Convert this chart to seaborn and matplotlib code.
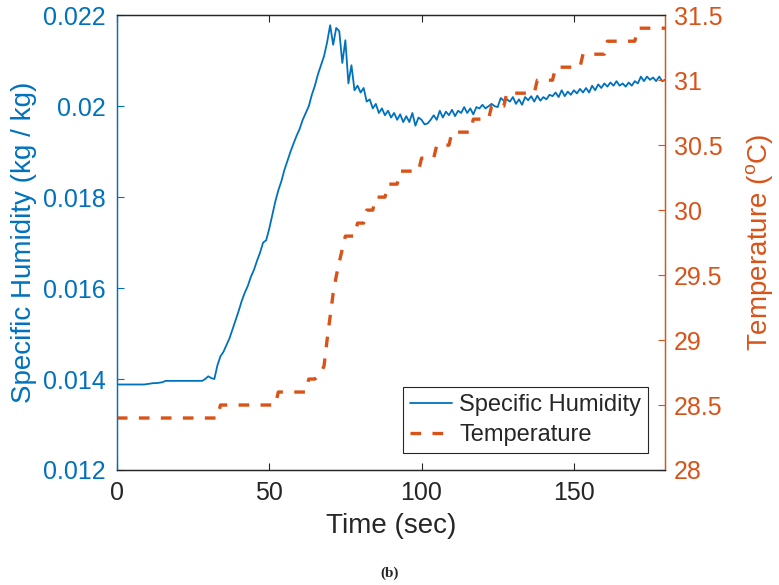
import numpy as np
import pandas as pd
import matplotlib
matplotlib.use("Agg")
import matplotlib.pyplot as plt
import seaborn as sb
from matplotlib.ticker import FuncFormatter

# specific humidity, one sample per second (0..180 s)
hum_time = list(range(0, 181))
hum_value = [
    0.01388, 0.01388, 0.01388, 0.01388, 0.01388, 0.01388, 0.01388, 0.01388, 0.01388, 0.01388,
    0.01389, 0.01390, 0.01391, 0.01391, 0.01392, 0.01393, 0.01396, 0.01396, 0.01396, 0.01396,
    0.01396, 0.01396, 0.01396, 0.01396, 0.01396, 0.01396, 0.01396, 0.01396, 0.01396, 0.01400,
    0.01406, 0.01402, 0.01400, 0.01430, 0.01450, 0.01460, 0.01475, 0.01490, 0.01510, 0.01530,
    0.01550, 0.01572, 0.01590, 0.01605, 0.01625, 0.01640, 0.01660, 0.01678, 0.01700, 0.01705,
    0.01730, 0.01760, 0.01790, 0.01815, 0.01835, 0.01860, 0.01880, 0.01900, 0.01918, 0.01935,
    0.01950, 0.01970, 0.01985, 0.02000, 0.02025, 0.02045, 0.02070, 0.02090, 0.02110, 0.02140,
    0.02178, 0.02135, 0.02172, 0.02165, 0.02095, 0.02145, 0.02050, 0.02090, 0.02035, 0.02045,
    0.02030, 0.02040, 0.02010, 0.02015, 0.01995, 0.02005, 0.01985, 0.01995, 0.01980, 0.01990,
    0.01975, 0.01985, 0.01970, 0.01982, 0.01965, 0.01978, 0.01965, 0.01985, 0.01957, 0.01975,
    0.01970, 0.01960, 0.01962, 0.01970, 0.01980, 0.01970, 0.01990, 0.01975, 0.01988, 0.01980,
    0.01992, 0.01978, 0.01990, 0.01985, 0.01998, 0.01985, 0.01995, 0.01982, 0.01998, 0.01995,
    0.02003, 0.01995, 0.02000, 0.02005, 0.02000, 0.01998, 0.02018, 0.02012, 0.02015, 0.02010,
    0.02020, 0.02005, 0.02015, 0.02003, 0.02020, 0.02013, 0.02022, 0.02010, 0.02023, 0.02012,
    0.02020, 0.02015, 0.02025, 0.02022, 0.02030, 0.02020, 0.02035, 0.02022, 0.02032, 0.02025,
    0.02035, 0.02028, 0.02038, 0.02030, 0.02040, 0.02030, 0.02045, 0.02035, 0.02048, 0.02040,
    0.02050, 0.02043, 0.02052, 0.02045, 0.02055, 0.02045, 0.02050, 0.02043, 0.02052, 0.02045,
    0.02055, 0.02050, 0.02065, 0.02055, 0.02065, 0.02058, 0.02063, 0.02055, 0.02065, 0.02055,
    0.02058,
]

# temperature (step-like sensor readings)
temp_time = [0, 33, 34, 52, 53, 62, 63, 65, 66, 67, 68, 69, 70, 71, 72, 73, 74, 75,
             78, 79, 81, 82, 84, 85, 88, 89, 92, 93, 99, 100, 104, 105, 109, 110,
             116, 117, 122, 123, 127, 128, 137, 138, 143, 144, 152, 153, 160, 161,
             170, 171, 180]
temp_value = [28.4, 28.4, 28.5, 28.5, 28.6, 28.6, 28.7, 28.7, 28.72, 28.75, 28.8, 29.0,
              29.18, 29.36, 29.49, 29.6, 29.7, 29.8, 29.8, 29.9, 29.9, 30.0, 30.0, 30.1,
              30.1, 30.2, 30.2, 30.3, 30.3, 30.4, 30.4, 30.5, 30.5, 30.6, 30.6, 30.7,
              30.7, 30.8, 30.8, 30.9, 30.9, 31.0, 31.0, 31.1, 31.1, 31.2, 31.2, 31.3,
              31.3, 31.4, 31.4]

BLUE = "#0072BD"
ORANGE = "#D95319"
GREY = "#262626"

def main():
    sb.set_theme(style="white")
    plt.rcParams["font.family"] = ["Liberation Sans", "DejaVu Sans"]
    plt.rcParams["mathtext.fontset"] = "custom"
    plt.rcParams["mathtext.rm"] = "Liberation Sans"

    hum = pd.DataFrame({"t": hum_time, "q": hum_value})
    temp = pd.DataFrame({"t": temp_time, "T": temp_value})

    fig = plt.figure(figsize=(7.79, 5.85), dpi=100)
    ax = fig.add_axes([0.150, 0.1966, 0.704, 0.7774])
    ax2 = ax.twinx()

    sb.lineplot(data=hum, x="t", y="q", ax=ax, color=BLUE, linewidth=1.3,
                label="Specific Humidity", legend=False)
    sb.lineplot(data=temp, x="t", y="T", ax=ax2, color=ORANGE, linewidth=2.4,
                label="Temperature", legend=False, dash_capstyle="butt")
    ax2.lines[0].set_dashes([3.2, 3.4])
    ax2.lines[0].set_dash_capstyle("butt")

    ax.set_xlim(0, 180)
    ax.set_ylim(0.012, 0.022)
    ax2.set_ylim(28, 31.5)
    ax.set_xticks([0, 50, 100, 150])
    ax.set_yticks(np.arange(0.012, 0.0221, 0.002))
    ax2.set_yticks(np.arange(28, 31.51, 0.5))
    ax.yaxis.set_major_formatter(FuncFormatter(lambda v, p: "%g" % round(v, 4)))
    ax2.yaxis.set_major_formatter(FuncFormatter(lambda v, p: "%g" % v))

    ax.set_xlabel("Time (sec)", fontsize=20, color=GREY, labelpad=6)
    ax.set_ylabel("Specific Humidity (kg / kg)", fontsize=20, color=BLUE, labelpad=4)
    ax2.set_ylabel(r"Temperature ($^{\mathrm{o}}$C)", fontsize=20, color=ORANGE, labelpad=16)

    ax.tick_params(axis="x", direction="in", length=5, width=0.8, colors=GREY,
                   labelsize=18, top=True, bottom=True, pad=8)
    ax.tick_params(axis="y", direction="in", length=5, width=0.8, colors=BLUE,
                   labelsize=18, left=True, pad=8)
    ax2.tick_params(axis="y", direction="in", length=5, width=0.8, colors=ORANGE,
                    labelsize=18, right=True, pad=6)

    for a in (ax, ax2):
        for s in a.spines.values():
            s.set_linewidth(0.9)
            s.set_color(GREY)
        a.spines["left"].set_color(BLUE)
        a.spines["right"].set_color(ORANGE)

    h1, l1 = ax.get_legend_handles_labels()
    h2, l2 = ax2.get_legend_handles_labels()
    leg = ax2.legend(h1 + h2, l1 + l2, loc="lower right", bbox_to_anchor=(0.969, 0.037),
                     fontsize=17, frameon=True, fancybox=False, framealpha=1,
                     edgecolor=GREY, handlelength=1.8, handletextpad=0.3,
                     labelspacing=0.35, borderpad=0.3, borderaxespad=0)
    leg.get_frame().set_linewidth(0.8)

    fig.text(0.5, 0.008, "(b)", ha="center", va="bottom", fontsize=11,
             fontweight="bold", family=["Liberation Serif", "DejaVu Serif"])

    fig.savefig("out.png", dpi=100)

if __name__ == "__main__":
    main()
